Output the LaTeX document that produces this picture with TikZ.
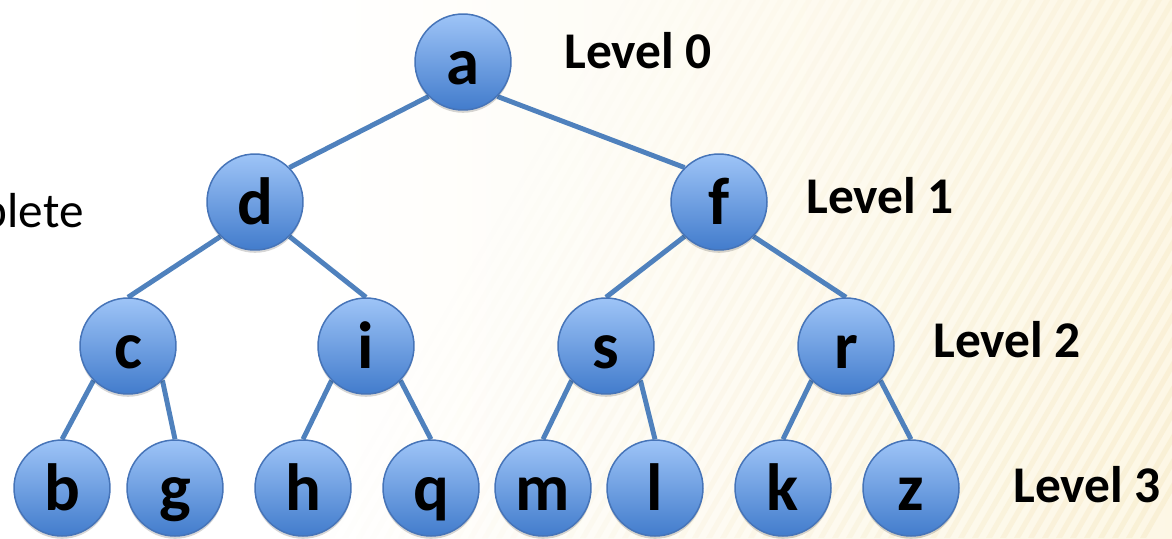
\documentclass[tikz,border=0pt]{standalone}
\usepackage{fontspec}
\setmainfont{Carlito}
\usetikzlibrary{backgrounds,shadows}

\definecolor{nodetop}{RGB}{158,196,247}
\definecolor{nodebot}{RGB}{66,124,204}
\definecolor{nodeedge}{RGB}{70,116,184}
\definecolor{linkblue}{RGB}{79,129,189}
\definecolor{paper}{RGB}{251,242,212}
\definecolor{stripe}{RGB}{238,216,158}

\pgfdeclarehorizontalshading{paperfade}{100bp}{%
  color(0bp)=(white); color(38bp)=(white);
  color(72bp)=(paper!55!white); color(100bp)=(paper)}

\tikzset{
  treenode/.style={circle, minimum size=1.92cm, inner sep=0pt,
    draw=nodeedge, line width=0.85pt,
    top color=nodetop, bottom color=nodebot,
    font=\fontsize{38}{38}\selectfont\bfseries,
    % common baseline for every letter, a little below the centre
    text height=0.88cm, text depth=0pt,
    drop shadow={shadow xshift=0pt, shadow yshift=-1.6pt,
      opacity=0.16, fill=black}},
  link/.style={draw=linkblue, line width=2.8pt},
  levellabel/.style={anchor=base west, inner sep=0pt,
    font=\fontsize{29.3}{29.3}\selectfont\bfseries},
}

\begin{document}
\begin{tikzpicture}[x=0.02cm, y=-0.02cm]
  \useasboundingbox (0,0) rectangle (1172,538);

  % tree nodes, one row per level
  \node[treenode] (a) at (463,62)  {a};
  \node[treenode] (d) at (255,202) {d};
  \node[treenode] (f) at (719,202) {f};
  \node[treenode] (c) at (128,346) {c};
  \node[treenode] (i) at (366,346) {i};
  \node[treenode] (s) at (606,346) {s};
  \node[treenode] (r) at (846,346) {r};
  \node[treenode] (b) at (62,488)  {b};
  \node[treenode] (g) at (175,488) {g};
  \node[treenode] (h) at (303,488) {h};
  \node[treenode] (q) at (431,488) {q};
  \node[treenode] (m) at (543,488) {m};
  \node[treenode] (l) at (655,488) {l};
  \node[treenode] (k) at (783,488) {k};
  \node[treenode] (z) at (911,488) {z};

  % level captions
  \node[levellabel] (lv0) at (564,68)  {Level 0};
  \node[levellabel] (lv1) at (806,213) {Level 1};
  \node[levellabel] (lv2) at (933,357) {Level 2};
  \node[levellabel] (lv3) at (1013,502) {Level 3};

  % partly visible word at the left edge
  \node[anchor=base east, inner sep=0pt,
        font=\fontsize{28}{28}\selectfont] (word) at (84,227) {plete};

  \begin{scope}[on background layer]
    % paper background with faint diagonal streaks
    \shade[shading=paperfade] (0,0) rectangle (1172,538);
    \begin{scope}
      \clip (0,0) rectangle (1172,538);
      \foreach \k in {0,...,60} {
        \pgfmathsetmacro\xx{300+\k*14}
        \pgfmathsetmacro\op{0.22*\k/60}
        \fill[stripe, opacity=\op] (\xx,538) -- ++(6,0) -- ++(310,-538) -- ++(-6,0) -- cycle;
      }
    \end{scope}

    % connectors
    \draw[link] (a.south west) -- (d.north east);
    \draw[link] (a.south east) -- (f.north west);
    \draw[link] (d.south west) -- (c.north);
    \draw[link] (d.south east) -- (i.north);
    \draw[link] (f.south west) -- (s.north);
    \draw[link] (f.south east) -- (r.north);
    \draw[link] (c.south west) -- (b.north);
    \draw[link] (c.south east) -- (g.north);
    \draw[link] (i.south west) -- (h.north);
    \draw[link] (i.south east) -- (q.north);
    \draw[link] (s.south west) -- (m.north);
    \draw[link] (s.south east) -- (l.north);
    \draw[link] (r.south west) -- (k.north);
    \draw[link] (r.south east) -- (z.north);
  \end{scope}
\end{tikzpicture}
\end{document}
